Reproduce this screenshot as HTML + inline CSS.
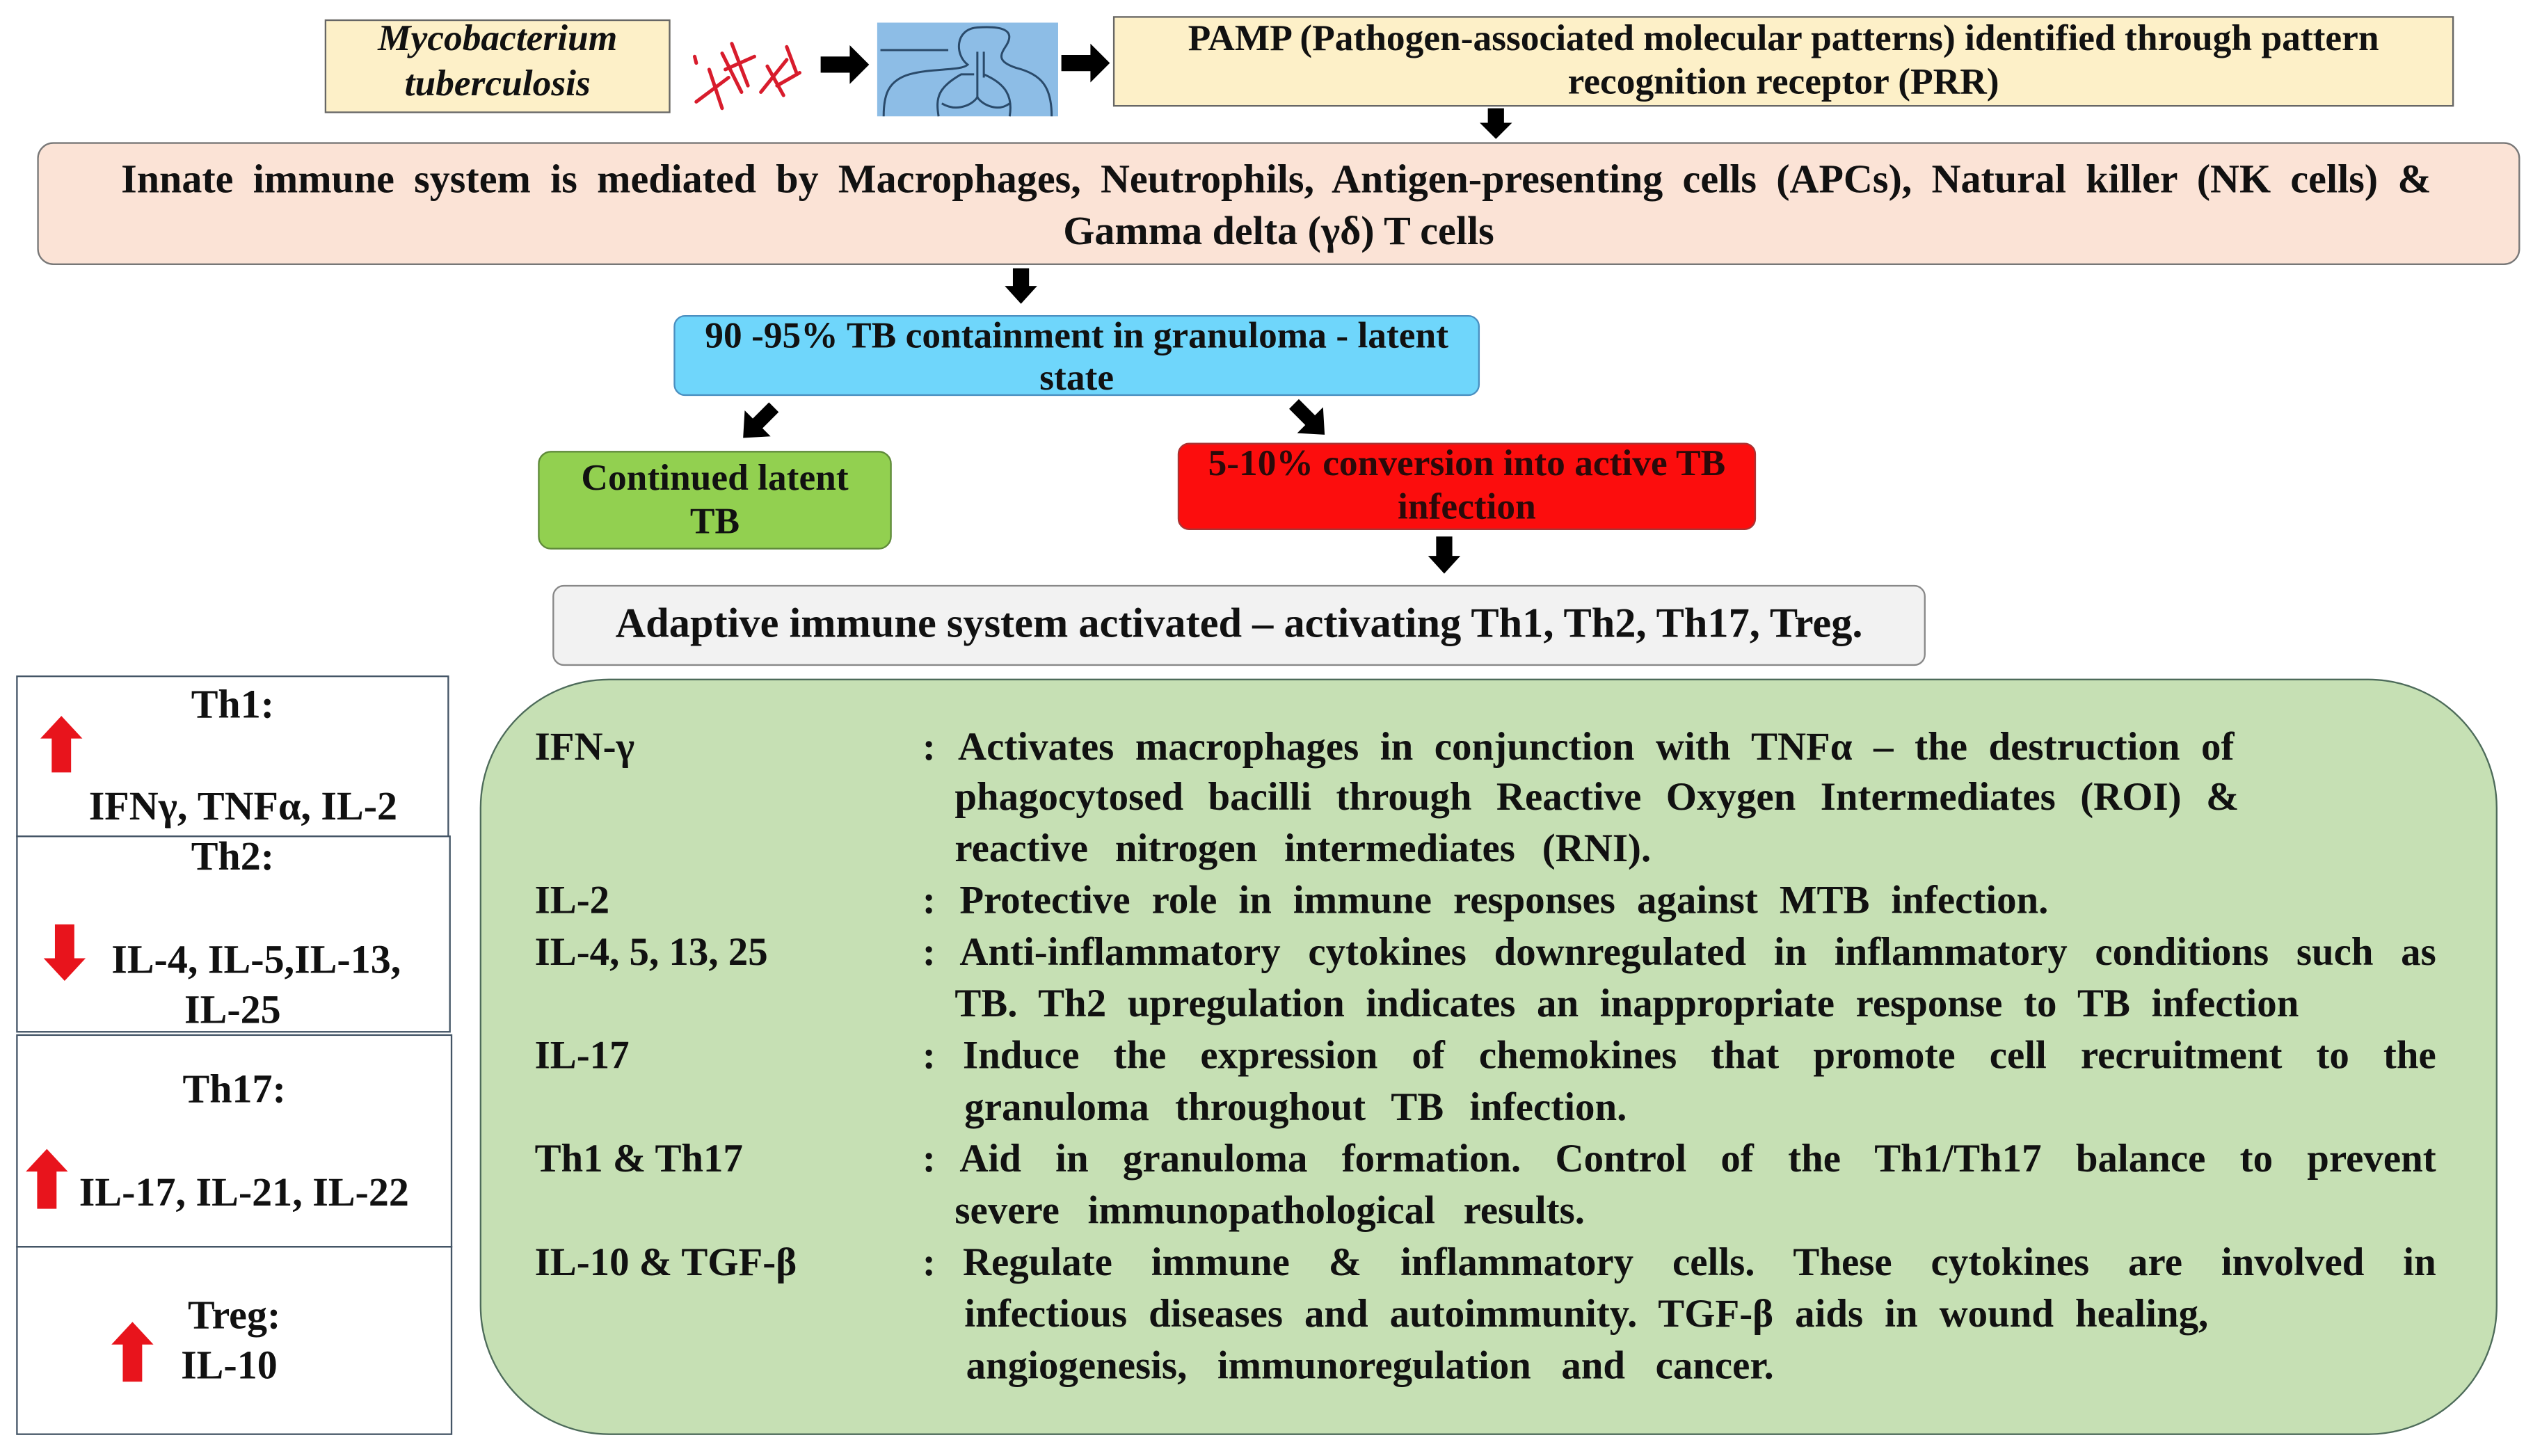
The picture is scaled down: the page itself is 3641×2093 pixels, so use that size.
<!DOCTYPE html>
<html><head><meta charset="utf-8"><style>
html,body{margin:0;padding:0;background:#fff;}
body{width:3641px;height:2093px;overflow:hidden;position:relative;}
#r{position:absolute;left:0;top:0;width:1568px;height:901px;transform:scale(2.3221,2.3230);transform-origin:0 0;font-family:"Liberation Serif",serif;font-weight:bold;color:#111;}
.a{position:absolute;box-sizing:border-box;}
.t{position:absolute;white-space:nowrap;line-height:30px;height:30px;margin-top:-2px;}
.j{text-align:justify;text-align-last:justify;white-space:normal;overflow:visible;}
.c{text-align:center;}
svg{position:absolute;overflow:visible;}
.g{font-size:24.5px;}
.l{font-size:25px;}
</style></head><body><div id="r">

<div class="a" style="left:201px;top:12px;width:214px;height:58px;background:#fdf0c8;border:1px solid #666;"></div>
<div class="t c" style="left:201px;top:11px;width:214px;font-style:italic;font-size:23px;">Mycobacterium</div>
<div class="t c" style="left:201px;top:39px;width:214px;font-style:italic;font-size:23px;">tuberculosis</div>

<svg style="left:425px;top:15px" width="80" height="55">
<g stroke="#d81c2c" stroke-width="2.2" fill="none" stroke-linecap="round">
<line x1="6" y1="48" x2="26" y2="33"/><line x1="14" y1="28" x2="22" y2="52"/><line x1="22" y1="18" x2="34" y2="42"/><line x1="28" y1="12" x2="38" y2="38"/><line x1="24" y1="28" x2="42" y2="20"/>
<line x1="46" y1="42" x2="62" y2="22"/><line x1="50" y1="26" x2="60" y2="44"/><line x1="56" y1="38" x2="70" y2="30"/><line x1="62" y1="14" x2="68" y2="30"/><line x1="5" y1="20" x2="6" y2="24"/>
</g></svg>
<svg style="left:508px;top:28px" width="32" height="24"><polygon points="0,7 18,7 18,0 30,12 18,24 18,17 0,17" fill="#000"/></svg>
<div class="a" style="left:543px;top:14px;width:112px;height:58px;background:#8dbde6;"></div>
<svg style="left:543px;top:14px" width="112" height="58"><g stroke="#2a4a6a" stroke-width="1.3" fill="none">
<path d="M4,58 C4,46 6,36 20,32 C34,28 52,30 56,26 C48,20 48,4 62,3 C76,2 86,4 80,14 C76,20 74,24 86,28 C102,32 108,40 108,58"/>
<path d="M38,58 C36,46 38,40 52,32 L60,32 M66,32 C80,38 84,46 82,58 M40,50 C50,56 60,50 62,46 C64,50 74,56 82,50"/>
<line x1="62" y1="18" x2="62" y2="46"/><line x1="66" y1="18" x2="66" y2="34"/><line x1="2" y1="17" x2="44" y2="17"/>
</g></svg>
<svg style="left:657px;top:27px" width="32" height="24"><polygon points="0,7 18,7 18,0 30,12 18,24 18,17 0,17" fill="#000"/></svg>

<div class="a" style="left:689px;top:10px;width:830px;height:56px;background:#fdf0c8;border:1px solid #666;"></div>
<div class="t c" style="left:689px;top:11px;width:830px;font-size:23px;">PAMP (Pathogen-associated molecular patterns) identified through pattern</div>
<div class="t c" style="left:689px;top:38px;width:830px;font-size:23px;">recognition receptor (PRR)</div>
<svg style="left:916px;top:67px" width="20" height="20"><polygon points="5,0 15,0 15,9 20,9 10,19 0,9 5,9" fill="#000"/></svg>

<div class="a" style="left:23px;top:88px;width:1537px;height:76px;background:#fbe3d6;border:1.5px solid #777;border-radius:10px;"></div>
<div class="t j" style="left:75px;top:99px;width:1430px;font-size:25px;">Innate immune system is mediated by Macrophages, Neutrophils, Antigen-presenting cells (APCs), Natural killer (NK cells) &amp;</div>
<div class="t c" style="left:23px;top:131px;width:1537px;font-size:25px;">Gamma delta (γδ) T cells</div>
<svg style="left:622px;top:166px" width="20" height="22"><polygon points="5,0 15,0 15,11 20,11 10,22 0,11 5,11" fill="#000"/></svg>

<div class="a" style="left:417px;top:195px;width:499px;height:50px;background:#6fd6fb;border:1.5px solid #4a8fc0;border-radius:7px;"></div>
<div class="t c" style="left:417px;top:195px;width:499px;font-size:23px;">90 -95% TB containment in granuloma - latent</div>
<div class="t c" style="left:417px;top:221px;width:499px;font-size:23px;">state</div>
<svg style="left:458px;top:249px" width="26" height="24"><polygon points="18,0 24,6 14,16 19,21 2,22 3,5 8,10" fill="#000"/></svg>
<svg style="left:798px;top:247px" width="26" height="24"><polygon points="6,0 0,6 10,16 5,21 22,22 21,5 16,10" fill="#000"/></svg>

<div class="a" style="left:333px;top:279px;width:219px;height:61px;background:#92d050;border:1.5px solid #5f8a3a;border-radius:8px;"></div>
<div class="t c" style="left:333px;top:283px;width:219px;font-size:23px;">Continued latent</div>
<div class="t c" style="left:333px;top:310px;width:219px;font-size:23px;">TB</div>

<div class="a" style="left:729px;top:274px;width:358px;height:54px;background:#fc0d0d;border:1.5px solid #a33;border-radius:7px;"></div>
<div class="t c" style="left:729px;top:274px;width:358px;font-size:23px;color:#2a0a0a;">5-10% conversion into active TB</div>
<div class="t c" style="left:729px;top:301px;width:358px;font-size:23px;color:#2a0a0a;">infection</div>
<svg style="left:884px;top:332px" width="20" height="23"><polygon points="5,0 15,0 15,12 20,12 10,23 0,12 5,12" fill="#000"/></svg>

<div class="a" style="left:342px;top:362px;width:850px;height:50px;background:#f2f2f2;border:1.5px solid #888;border-radius:7px;"></div>
<div class="t c" style="left:342px;top:373px;width:850px;font-size:26px;">Adaptive  immune  system activated – activating Th1, Th2, Th17, Treg.</div>

<div class="a" style="left:10px;top:418px;width:268px;height:100px;border:1px solid #456;"></div>
<div class="a" style="left:10px;top:517px;width:269px;height:122px;border:1px solid #456;"></div>
<div class="a" style="left:10px;top:640px;width:270px;height:132px;border:1px solid #456;"></div>
<div class="a" style="left:10px;top:771px;width:270px;height:117px;border:1px solid #456;"></div>

<div class="t c l" style="left:10px;top:424px;width:268px;">Th1:</div>
<svg style="left:25px;top:443px" width="26" height="35"><polygon points="13,0 26,14 19,14 19,35 7,35 7,14 0,14" fill="#e8141c"/></svg>
<div class="t l" style="left:55px;top:487px;">IFNγ, TNFα, IL-2</div>

<div class="t c l" style="left:10px;top:518px;width:268px;">Th2:</div>
<svg style="left:27px;top:572px" width="26" height="35"><polygon points="7,0 19,0 19,21 26,21 13,35 0,21 7,21" fill="#e8141c"/></svg>
<div class="t l" style="left:69px;top:582px;">IL-4, IL-5,IL-13,</div>
<div class="t c l" style="left:10px;top:613px;width:268px;">IL-25</div>

<div class="t c l" style="left:10px;top:662px;width:270px;">Th17:</div>
<svg style="left:16px;top:711px" width="26" height="37"><polygon points="13,0 26,14 19,14 19,37 7,37 7,14 0,14" fill="#e8141c"/></svg>
<div class="t l" style="left:49px;top:726px;">IL-17, IL-21, IL-22</div>

<div class="t c l" style="left:10px;top:802px;width:270px;">Treg:</div>
<svg style="left:69px;top:818px" width="26" height="37"><polygon points="13,0 26,14 19,14 19,37 7,37 7,14 0,14" fill="#e8141c"/></svg>
<div class="t l" style="left:112px;top:833px;">IL-10</div>

<div class="a" style="left:297px;top:420px;width:1249px;height:468px;background:#c6e0b4;border:1.5px solid #4d6b5a;border-radius:80px;"></div>

<div class="t g" style="left:331px;top:450px;">IFN-γ</div>
<div class="t g" style="left:331px;top:545px;">IL-2</div>
<div class="t g" style="left:331px;top:577px;">IL-4, 5, 13, 25</div>
<div class="t g" style="left:331px;top:641px;">IL-17</div>
<div class="t g" style="left:331px;top:705px;">Th1 &amp; Th17</div>
<div class="t g" style="left:331px;top:769px;">IL-10 &amp; TGF-β</div>

<div class="t g" style="left:571px;top:450px;">:</div>
<div class="t g" style="left:571px;top:545px;">:</div>
<div class="t g" style="left:571px;top:577px;">:</div>
<div class="t g" style="left:571px;top:641px;">:</div>
<div class="t g" style="left:571px;top:705px;">:</div>
<div class="t g" style="left:571px;top:769px;">:</div>

<div class="t j g" style="left:593px;top:450px;width:790px;">Activates macrophages in conjunction with TNFα – the destruction of</div>
<div class="t j g" style="left:591px;top:481px;width:795px;">phagocytosed bacilli through Reactive Oxygen Intermediates (ROI) &amp;</div>
<div class="t j g" style="left:591px;top:513px;width:431px;">reactive nitrogen intermediates (RNI).</div>
<div class="t j g" style="left:594px;top:545px;width:674px;">Protective role in immune responses against MTB infection.</div>
<div class="t j g" style="left:594px;top:577px;width:914px;">Anti-inflammatory cytokines downregulated in inflammatory conditions such as</div>
<div class="t j g" style="left:591px;top:609px;width:832px;">TB. Th2 upregulation indicates an inappropriate response to TB infection</div>
<div class="t j g" style="left:596px;top:641px;width:912px;">Induce the expression of chemokines that promote cell recruitment to the</div>
<div class="t j g" style="left:597px;top:673px;width:410px;">granuloma throughout TB infection.</div>
<div class="t j g" style="left:594px;top:705px;width:914px;">Aid in granuloma formation. Control of the Th1/Th17 balance to prevent</div>
<div class="t j g" style="left:591px;top:737px;width:390px;">severe immunopathological results.</div>
<div class="t j g" style="left:596px;top:769px;width:912px;">Regulate immune &amp; inflammatory cells. These cytokines are involved in</div>
<div class="t j g" style="left:597px;top:801px;width:770px;">infectious diseases and autoimmunity. TGF-β aids in wound healing,</div>
<div class="t j g" style="left:598px;top:833px;width:500px;">angiogenesis, immunoregulation and cancer.</div>

</div></body></html>
